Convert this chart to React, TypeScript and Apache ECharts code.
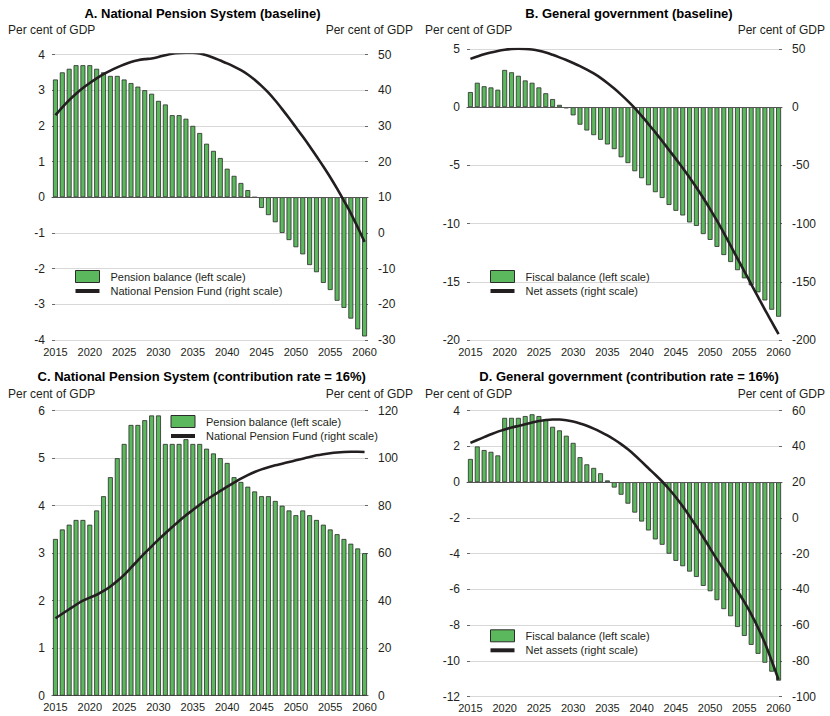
import React, { useEffect, useRef } from "react";
import * as echarts from "echarts";

const years = [
  "2015","2016","2017","2018","2019","2020","2021","2022","2023","2024",
  "2025","2026","2027","2028","2029","2030","2031","2032","2033","2034",
  "2035","2036","2037","2038","2039","2040","2041","2042","2043","2044",
  "2045","2046","2047","2048","2049","2050","2051","2052","2053","2054",
  "2055","2056","2057","2058","2059","2060",
];

// Panel A: National Pension System (baseline)
const pensionBalanceA = [
  3.3, 3.5, 3.6, 3.7, 3.7, 3.7, 3.6, 3.5, 3.4, 3.4,
  3.3, 3.2, 3.1, 3.0, 2.9, 2.7, 2.6, 2.3, 2.3, 2.2,
  2.0, 1.8, 1.5, 1.3, 1.1, 0.8, 0.6, 0.4, 0.2, 0,
  -0.3, -0.5, -0.7, -1.0, -1.2, -1.4, -1.6, -1.9, -2.1, -2.4,
  -2.6, -2.9, -3.1, -3.4, -3.7, -3.9,
];
const pensionFundA = [
  33, 35.2, 37.2, 39, 40.6, 42, 43.3, 44.5, 45.5, 46.4,
  47.2, 47.9, 48.4, 48.7, 48.9, 49.3, 49.8, 50.2, 50.4, 50.5,
  50.5, 50.3, 49.8, 49.1, 48.3, 47.5, 46.6, 45.6, 44.4, 42.9,
  41.2, 39.3, 37.1, 34.7, 32.2, 29.6, 27, 24.3, 21.5, 18.6,
  15.6, 12.4, 9, 5.5, 1.6, -2.5,
];

// Panel B: General government (baseline)
const fiscalBalanceB = [
  1.3, 2.1, 1.8, 1.7, 1.5, 3.2, 3.0, 2.7, 2.3, 2.1,
  1.7, 1.2, 0.7, 0.2, -0.1, -0.7, -1.5, -2.0, -2.4, -2.8,
  -3.2, -3.6, -4.3, -4.8, -5.5, -6.1, -6.7, -7.3, -7.8, -8.4,
  -8.9, -9.3, -9.9, -10.2, -10.9, -11.4, -12.0, -12.7, -13.3, -14.0,
  -14.7, -15.3, -15.9, -16.6, -17.4, -18.0,
];
const netAssetsB = [
  41.5, 43.5, 45.5, 47, 48.3, 49.3, 50, 50.2, 50, 49.5,
  48.5, 47, 45, 42.8, 40.5, 38, 35.3, 32.3, 29, 25.2,
  20.8, 16, 10.8, 5.2, -0.8, -7.5, -14.5, -21.6, -29, -36.7,
  -44.4, -52.2, -60.4, -69, -78, -87.5, -97.5, -108, -119, -130,
  -141, -152, -163, -174, -184.5, -195,
];

// Panel C: National Pension System (contribution rate = 16%)
const pensionBalanceC = [
  3.3, 3.5, 3.6, 3.7, 3.7, 3.6, 3.9, 4.2, 4.6, 5.0,
  5.3, 5.7, 5.7, 5.8, 5.9, 5.9, 5.3, 5.3, 5.3, 5.4,
  5.3, 5.3, 5.2, 5.1, 5.0, 4.9, 4.6, 4.5, 4.4, 4.3,
  4.2, 4.2, 4.1, 4.0, 3.9, 3.8, 3.9, 3.8, 3.7, 3.6,
  3.5, 3.4, 3.3, 3.2, 3.1, 3.0,
];
const pensionFundC = [
  32.6, 34.5, 36.4, 38.3, 40, 41.3, 42.5, 44.1, 46, 48.3,
  50.9, 53.9, 57, 60, 62.9, 65.7, 68.4, 71, 73.6, 76,
  78.2, 80.4, 82.5, 84.4, 86.2, 88, 89.7, 91.4, 92.9, 94.2,
  95.3, 96.2, 97, 97.7, 98.4, 99.1, 99.8, 100.5, 101.2, 101.7,
  102.1, 102.4, 102.6, 102.7, 102.7, 102.6,
];

// Panel D: General government (contribution rate = 16%)
const fiscalBalanceD = [
  1.3, 2.0, 1.8, 1.7, 1.5, 3.6, 3.6, 3.6, 3.7, 3.8,
  3.7, 3.5, 3.1, 2.9, 2.6, 2.2, 1.4, 1.0, 0.8, 0.5,
  0.1, -0.3, -0.7, -1.2, -1.7, -2.2, -2.7, -3.2, -3.5, -4.0,
  -4.4, -4.7, -5.0, -5.3, -5.8, -6.1, -6.6, -7.1, -7.5, -8.1,
  -8.6, -9.1, -9.6, -10.1, -10.6, -11.1,
];
const netAssetsD = [
  42, 43.6, 45.2, 46.8, 48.3, 49.5, 50.6, 51.5, 52.4, 53.4,
  54.2, 54.8, 55.1, 55.1, 54.7, 53.9, 52.9, 51.6, 50, 48.2,
  46.2, 43.9, 41.3, 38.4, 35.1, 31.5, 27.8, 24.2, 20.4, 16.2,
  11.6, 6.5, 1, -4.8, -10.8, -17, -23.2, -29, -34.8, -40.8,
  -47, -53.8, -61.4, -70, -80, -90.5,
];

const titles = [
  "A. National Pension System (baseline)",
  "B. General government (baseline)",
  "C. National Pension System (contribution rate = 16%)",
  "D. General government (contribution rate = 16%)",
];
const unitLabel = "Per cent of GDP";
const barNamePension = "Pension balance (left scale)";
const lineNamePension = "National Pension Fund (right scale)";
const barNameFiscal = "Fiscal balance (left scale)";
const lineNameFiscal = "Net assets (right scale)";

const FONT = "'Liberation Sans', Arial, Helvetica, sans-serif";
const GREEN = "#5cb85c";
const BAR_BORDER = "#2b2b2b";
const LINE = "#231f20";
const TEXT = "#231f20";

export default function App() {
  const ref = useRef<HTMLDivElement>(null);

  useEffect(() => {
    if (!ref.current) return;
    const chart = echarts.init(ref.current, null, { renderer: "svg" });

    const grids = [
      { left: 52, top: 54.5, width: 316, height: 285.5 },
      { left: 467, top: 49, width: 315, height: 291 },
      { left: 52, top: 410.7, width: 316, height: 285 },
      { left: 467, top: 410.7, width: 315, height: 286 },
    ];

    const xAxes = grids.map((_, i) => ({
      type: "category",
      gridIndex: i,
      data: years,
      boundaryGap: true,
      axisTick: { show: false },
      axisLine: { show: true, lineStyle: { color: "#555", width: 1 } },
      axisLabel: {
        interval: 4,
        fontSize: 11,
        color: TEXT,
        fontFamily: FONT,
        margin: 6,
      },
      splitLine: { show: false },
    }));

    const yAxisDefs = [
      [0, -4, 4, 1, "left"],
      [0, -30, 50, 10, "right"],
      [1, -20, 5, 5, "left"],
      [1, -200, 50, 50, "right"],
      [2, 0, 6, 1, "left"],
      [2, 0, 120, 20, "right"],
      [3, -12, 4, 2, "left"],
      [3, -100, 60, 20, "right"],
    ] as const;

    const yAxes = yAxisDefs.map(([g, min, max, interval, pos]) => ({
      type: "value",
      gridIndex: g,
      min,
      max,
      interval,
      position: pos,
      axisLine: { show: false },
      axisTick: {
        show: true,
        inside: true,
        length: 3,
        lineStyle: { color: "#666", width: 1 },
      },
      axisLabel: {
        fontSize: 12,
        color: TEXT,
        fontFamily: FONT,
        margin: pos === "left" ? 7 : 10,
      },
      splitLine: {
        show: pos === "left",
        lineStyle: { color: "#d8d8d8", width: 1 },
      },
    }));

    const zeroLine = {
      silent: true,
      symbol: "none",
      label: { show: false },
      lineStyle: { color: "#555", width: 1, type: "solid" },
      data: [{ yAxis: 0 }],
    };

    const bar = (name: string, data: number[], idx: number, withZero: boolean) => ({
      type: "bar",
      name,
      data,
      xAxisIndex: idx,
      yAxisIndex: idx * 2,
      barCategoryGap: "28%",
      itemStyle: { color: GREEN, borderColor: BAR_BORDER, borderWidth: 0.8 },
      markLine: withZero ? zeroLine : undefined,
      z: 2,
    });

    const line = (name: string, data: number[], idx: number) => ({
      type: "line",
      name,
      data,
      xAxisIndex: idx,
      yAxisIndex: idx * 2 + 1,
      symbol: "none",
      smooth: 0.3,
      lineStyle: { color: LINE, width: 2.6 },
      itemStyle: { color: LINE },
      z: 5,
    });

    const legend = (left: number, top: number, barName: string, lineName: string) => ({
      orient: "vertical",
      left,
      top,
      padding: 0,
      itemWidth: 24,
      itemHeight: 12,
      itemGap: 2.5,
      selectedMode: false,
      textStyle: {
        fontSize: 11,
        color: TEXT,
        fontFamily: FONT,
        padding: [0, 0, 0, 6],
      },
      data: [
        {
          name: barName,
          icon: "rect",
          itemStyle: { color: GREEN, borderColor: BAR_BORDER, borderWidth: 1 },
        },
        {
          name: lineName,
          icon: "path://M0,0 L24,0 L24,4 L0,4 Z",
          itemStyle: { color: LINE, borderWidth: 0 },
        },
      ],
    });

    const text = (x: number, y: number, t: string, align: string, bold = false, size = 12) => ({
      type: "text",
      x,
      y,
      silent: true,
      style: {
        text: t,
        fill: bold ? "#000" : TEXT,
        fontSize: size,
        fontWeight: bold ? "bold" : "normal",
        fontFamily: FONT,
        align,
        verticalAlign: "middle",
      },
    });

    const option = {
      animation: false,
      backgroundColor: "#ffffff",
      grid: grids,
      xAxis: xAxes,
      yAxis: yAxes,
      legend: [
        legend(75, 270, barNamePension, lineNamePension),
        legend(490, 270, barNameFiscal, lineNameFiscal),
        legend(170.5, 415, barNamePension, lineNamePension),
        legend(490, 629.3, barNameFiscal, lineNameFiscal),
      ],
      series: [
        bar(barNamePension, pensionBalanceA, 0, true),
        line(lineNamePension, pensionFundA, 0),
        bar(barNameFiscal, fiscalBalanceB, 1, true),
        line(lineNameFiscal, netAssetsB, 1),
        bar(barNamePension, pensionBalanceC, 2, false),
        line(lineNamePension, pensionFundC, 2),
        bar(barNameFiscal, fiscalBalanceD, 3, true),
        line(lineNameFiscal, netAssetsD, 3),
      ],
      graphic: [
        text(202.5, 13.5, titles[0], "center", true, 13),
        text(629, 13.5, titles[1], "center", true, 13),
        text(201.7, 376, titles[2], "center", true, 13),
        text(629, 376, titles[3], "center", true, 13),
        text(8, 29.5, unitLabel, "left"),
        text(413, 29.5, unitLabel, "right"),
        text(425, 29.5, unitLabel, "left"),
        text(825, 29.5, unitLabel, "right"),
        text(8, 393.5, unitLabel, "left"),
        text(413, 393.5, unitLabel, "right"),
        text(425, 393.5, unitLabel, "left"),
        text(825, 393.5, unitLabel, "right"),
      ],
    };

    chart.setOption(option as any);
    return () => {
      chart.dispose();
    };
  }, []);

  return (
    <div
      ref={ref}
      style={{ position: "fixed", left: 0, top: 0, width: 830, height: 716, background: "#fff" }}
    />
  );
}
